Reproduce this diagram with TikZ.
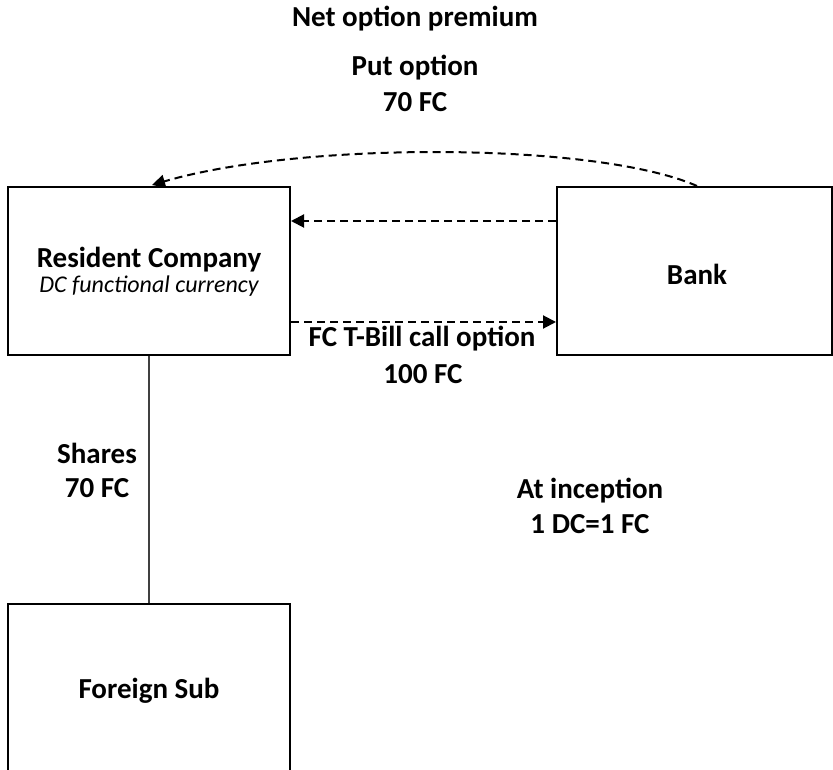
\documentclass[tikz,border=0pt]{standalone}
\usepackage{fontspec}
\setmainfont{Carlito}
\usetikzlibrary{arrows.meta}
\begin{document}
\begin{tikzpicture}[x=0.5pt,y=-0.5pt,
  box/.style={draw=black,line width=1pt,rectangle,inner sep=0pt},
  lbl/.style={font=\fontsize{14.5}{17}\selectfont\bfseries,anchor=base,inner sep=0pt},
  dasharrow/.style={draw=black,line width=1pt,dash pattern=on 4pt off 2.5pt,
    -{Triangle[length=6.5pt,width=6.5pt]}},
  link/.style={draw=black!75,line width=1pt}]
\clip (0,0) rectangle (833,769);
\fill[white] (0,0) rectangle (833,769);
% boxes
\node[box,minimum width=141pt,minimum height=84pt] (res) at (149,271) {};
\node[box,minimum width=137.5pt,minimum height=84pt] (bank) at (694.5,271) {};
\node[box,minimum width=141pt,minimum height=85pt] (sub) at (149,689) {};
% box texts
\node[lbl] (restxt) at (149,268) {Resident Company};
\node[lbl,font=\fontsize{12}{14}\selectfont\itshape] (resfc) at (149,293) {DC functional currency};
\node[lbl] (banktxt) at (697,285) {Bank};
\node[lbl] (subtxt) at (149,698) {Foreign Sub};
% labels
\node[lbl] (net) at (415,27) {Net option premium};
\node[lbl] (put) at (415,76) {Put option};
\node[lbl] (put70) at (415,112) {70 FC};
\node[lbl] (call) at (422,347) {FC T-Bill call option};
\node[lbl] (call100) at (423,383) {100 FC};
\node[lbl] (shares) at (97,463) {Shares};
\node[lbl] (shares70) at (97,497) {70 FC};
\node[lbl] (incep) at (590,498) {At inception};
\node[lbl] (rate) at (590,533) {1 DC=1 FC};
% connectors
\draw[dasharrow] ([xshift=1.25pt]bank.north) .. controls +(-50pt,22pt) and +(75pt,22pt) .. ([xshift=1.5pt,yshift=0.5pt]res.north);
\draw[dasharrow] ([yshift=25pt]bank.west) -- ([yshift=25pt]res.east);
\draw[dasharrow] ([yshift=-25.5pt]res.east) -- ([yshift=-25.5pt]bank.west);
\draw[link] (res.south) -- (sub.north);
\end{tikzpicture}
\end{document}
